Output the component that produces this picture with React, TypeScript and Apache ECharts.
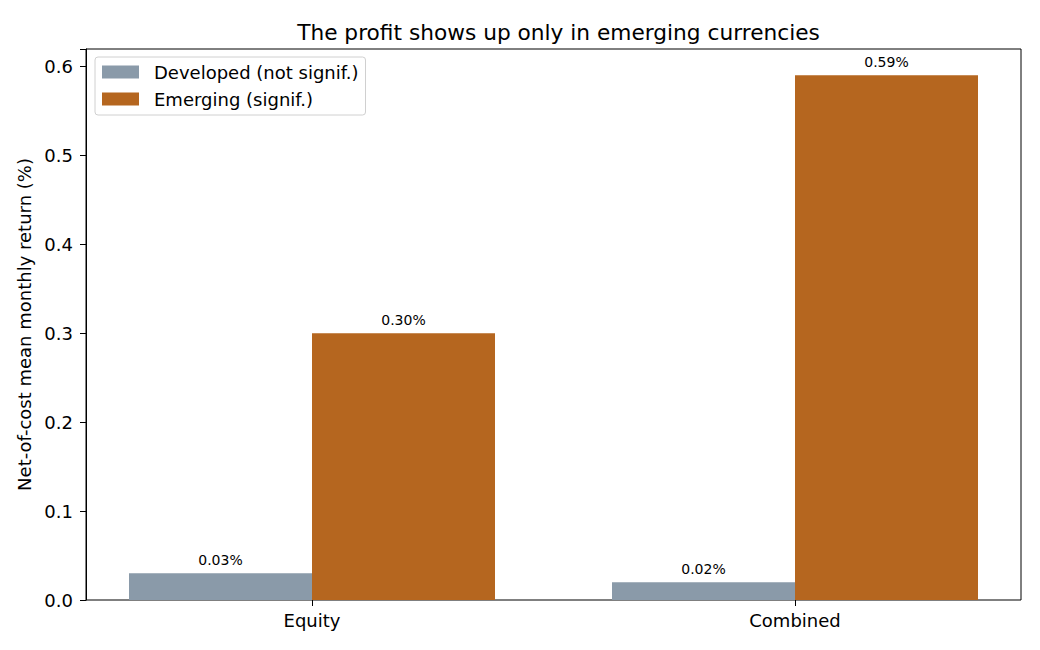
import React, { useEffect, useRef } from "react";
import * as echarts from "echarts";

const categories = ["Equity", "Combined"];
const developed = [0.03, 0.02];
const emerging = [0.3, 0.59];
const seriesNames = ["Developed (not signif.)", "Emerging (signif.)"];
const yTicks = [0, 0.1, 0.2, 0.3, 0.4, 0.5, 0.6];
const yMax = 0.6195;

const FONT = "DejaVu Sans";
const COLOR_DEV = "#8a9aa9";
const COLOR_EM = "#b5661f";

export default function App() {
  const ref = useRef<HTMLDivElement>(null);

  useEffect(() => {
    if (!ref.current) return;
    const chart = echarts.init(ref.current, null, { renderer: "svg" });

    const label = {
      show: true,
      position: "top",
      distance: 6,
      fontFamily: FONT,
      fontSize: 14,
      color: "#000",
      formatter: (p: any) => `${p.value.toFixed(2)}%`,
    };

    chart.setOption({
      animation: false,
      backgroundColor: "#fff",
      textStyle: { fontFamily: FONT },
      title: {
        text: "The profit shows up only in emerging currencies",
        left: 553.5,
        top: 16,
        textAlign: "center",
        textStyle: { fontFamily: FONT, fontSize: 21.7, fontWeight: "normal", color: "#000" },
      },
      legend: {
        orient: "vertical",
        left: 95,
        top: 57,
        padding: [6, 7, 7, 7],
        itemWidth: 37,
        itemHeight: 13,
        itemGap: 9,
        backgroundColor: "#fff",
        borderColor: "#d0d0d0",
        borderWidth: 1,
        borderRadius: 3,
        icon: "rect",
        data: seriesNames,
        textStyle: {
          fontFamily: FONT,
          fontSize: 18,
          color: "#000",
          lineHeight: 18,
          padding: [0, 0, 0, 10],
        },
      },
      grid: [
        {
          left: 86,
          right: 19,
          top: 49,
          bottom: 50,
          show: true,
          borderColor: "#000",
          borderWidth: 1,
          backgroundColor: "transparent",
        },
        {
          left: 70.5,
          width: 966,
          top: 49,
          bottom: 50,
        },
      ],
      xAxis: [
        { type: "value", gridIndex: 0, min: 0, max: 1, show: false },
        {
          type: "category",
          gridIndex: 1,
          data: categories,
          axisLine: { show: false },
          axisTick: { show: true, alignWithLabel: true, length: 6, lineStyle: { color: "#000" } },
          axisLabel: { fontFamily: FONT, fontSize: 18, color: "#000", margin: 11 },
        },
      ],
      yAxis: [
        {
          type: "value",
          gridIndex: 0,
          min: 0,
          max: yMax,
          interval: 0.1,
          name: "Net-of-cost mean monthly return (%)",
          nameLocation: "middle",
          nameGap: 47,
          nameTextStyle: { fontFamily: FONT, fontSize: 18, color: "#000" },
          axisLine: { show: true, lineStyle: { color: "#000" } },
          axisTick: { show: true, length: 6, lineStyle: { color: "#000" } },
          splitLine: { show: false },
          axisLabel: {
            fontFamily: FONT,
            fontSize: 18,
            color: "#000",
            margin: 13,
            formatter: (v: number) =>
              yTicks.some((t) => Math.abs(t - v) < 1e-9) ? v.toFixed(1) : "",
          },
        },
        { type: "value", gridIndex: 1, min: 0, max: yMax, show: false },
      ],
      series: [
        {
          name: seriesNames[0],
          type: "bar",
          xAxisIndex: 1,
          yAxisIndex: 1,
          data: developed,
          barWidth: 183,
          barGap: "0%",
          itemStyle: { color: COLOR_DEV },
          label,
        },
        {
          name: seriesNames[1],
          type: "bar",
          xAxisIndex: 1,
          yAxisIndex: 1,
          data: emerging,
          barWidth: 183,
          barGap: "0%",
          itemStyle: { color: COLOR_EM },
          label,
        },
      ],
    });

    return () => chart.dispose();
  }, []);

  return <div ref={ref} style={{ width: 1040, height: 650, position: "absolute", left: 0, top: 0 }} />;
}
